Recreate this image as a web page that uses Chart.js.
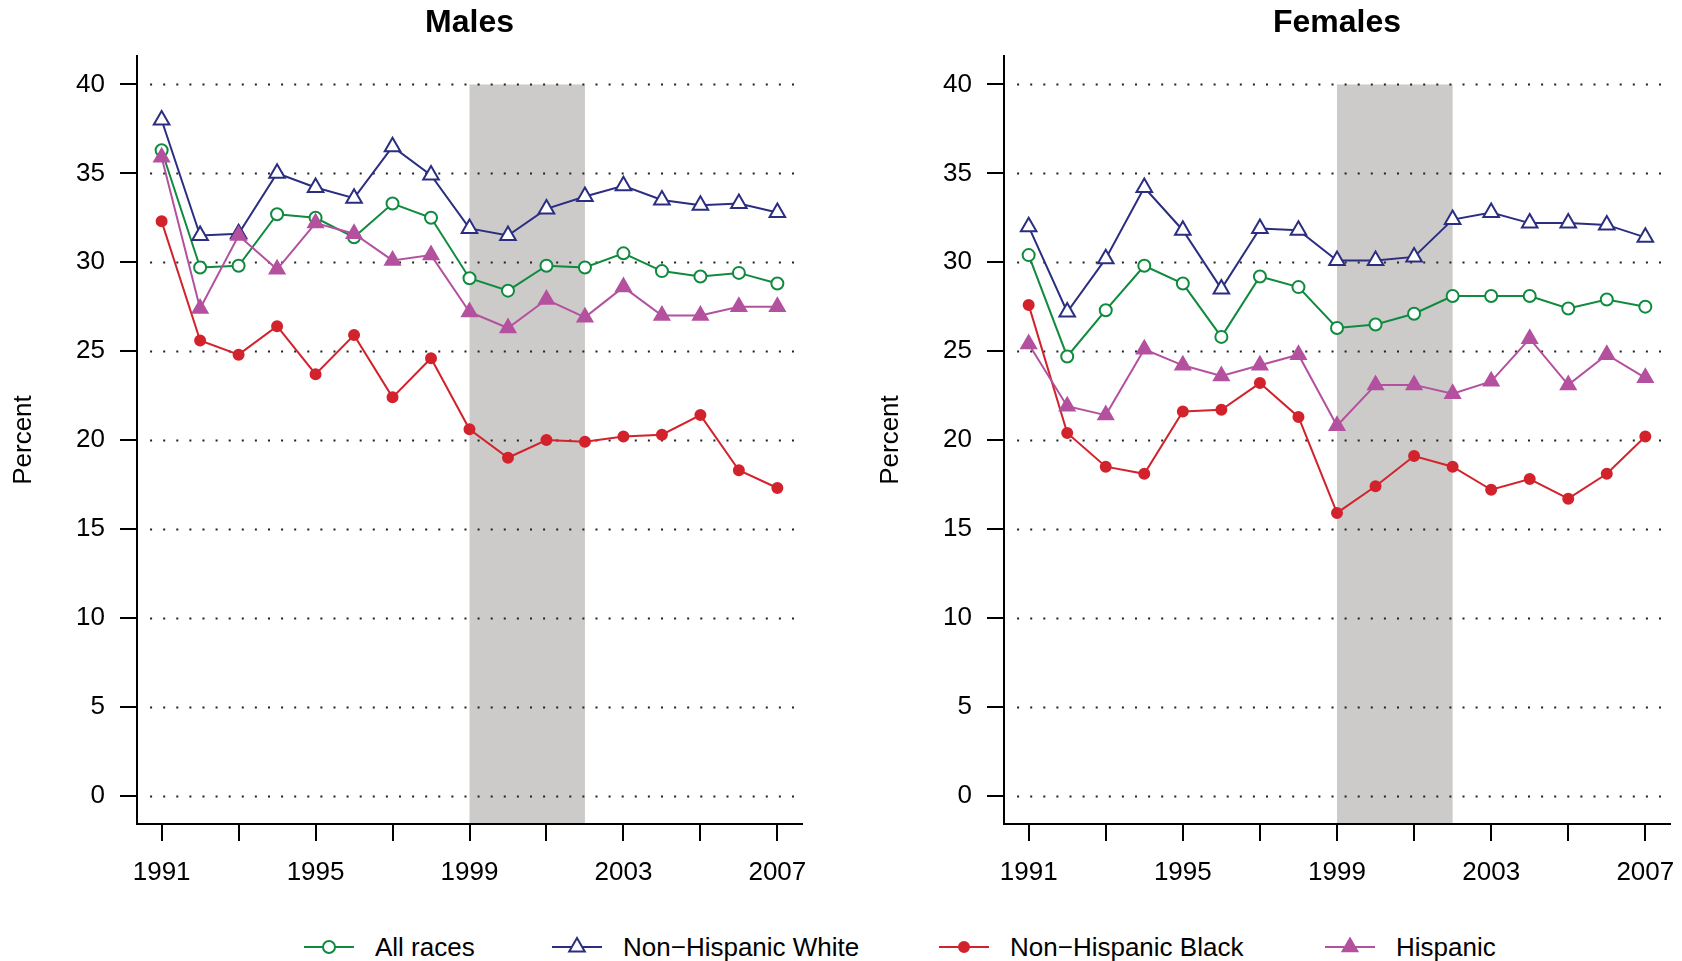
<!DOCTYPE html>
<html>
<head>
<meta charset="utf-8">
<script src="https://cdn.jsdelivr.net/npm/chart.js@4.4.1/dist/chart.umd.min.js"></script>
<style>
  html, body { margin: 0; padding: 0; background: #fff; }
  body { width: 1682px; height: 961px; position: relative; overflow: hidden; font-family: "Liberation Sans", Arial, sans-serif; }
  .panel { position: absolute; top: 0; height: 900px; }
  #malesWrap { left: 0; width: 841px; }
  #femalesWrap { left: 867px; width: 815px; }
  .legend-item { position: absolute; top: 931px; height: 32px; display: flex; align-items: center; font-size: 26px; color: #000; white-space: nowrap; }
  .legend-item svg { margin-right: 21px; }
</style>
</head>
<body>
<div id="malesWrap" class="panel"><canvas id="malesChart"></canvas></div>
<div id="femalesWrap" class="panel"><canvas id="femalesChart"></canvas></div>
<div id="legend"></div>

<script>
const years = [1991, 1992, 1993, 1994, 1995, 1996, 1997, 1998, 1999, 2000, 2001, 2002, 2003, 2004, 2005, 2006, 2007];

const maleAll      = [36.3, 29.7, 29.8, 32.7, 32.5, 31.4, 33.3, 32.5, 29.1, 28.4, 29.8, 29.7, 30.5, 29.5, 29.2, 29.4, 28.8];
const maleWhite    = [38.0, 31.5, 31.6, 35.0, 34.2, 33.6, 36.5, 34.9, 31.9, 31.5, 33.0, 33.7, 34.3, 33.5, 33.2, 33.3, 32.8];
const maleBlack    = [32.3, 25.6, 24.8, 26.4, 23.7, 25.9, 22.4, 24.6, 20.6, 19.0, 20.0, 19.9, 20.2, 20.3, 21.4, 18.3, 17.3];
const maleHispanic = [35.9, 27.4, 31.5, 29.6, 32.2, 31.6, 30.1, 30.4, 27.2, 26.3, 27.9, 26.9, 28.6, 27.0, 27.0, 27.5, 27.5];

const femaleAll      = [30.4, 24.7, 27.3, 29.8, 28.8, 25.8, 29.2, 28.6, 26.3, 26.5, 27.1, 28.1, 28.1, 28.1, 27.4, 27.9, 27.5];
const femaleWhite    = [32.0, 27.2, 30.2, 34.2, 31.8, 28.5, 31.9, 31.8, 30.1, 30.1, 30.3, 32.4, 32.8, 32.2, 32.2, 32.1, 31.4];
const femaleBlack    = [27.6, 20.4, 18.5, 18.1, 21.6, 21.7, 23.2, 21.3, 15.9, 17.4, 19.1, 18.5, 17.2, 17.8, 16.7, 18.1, 20.2];
const femaleHispanic = [25.4, 21.9, 21.4, 25.1, 24.2, 23.6, 24.2, 24.8, 20.8, 23.1, 23.1, 22.6, 23.3, 25.7, 23.1, 24.8, 23.5];

const seriesNames = ['All races', 'Non\u2212Hispanic White', 'Non\u2212Hispanic Black', 'Hispanic'];
const xTickYears = [1991, 1993, 1995, 1997, 1999, 2001, 2003, 2005, 2007];
const xLabelYears = [1991, 1995, 1999, 2003, 2007];
const yTickValues = [0, 5, 10, 15, 20, 25, 30, 35, 40];
const shadedYears = [1999, 2002];

const FONT = '"Liberation Sans", Arial, sans-serif';

const seriesStyle = [
    { color: '#0f8a3e', pointStyle: 'circle',   fill: '#ffffff', radius: 6,   order: 3 },
    { color: '#2b2e80', pointStyle: 'triangle', fill: '#ffffff', radius: 9,   order: 2 },
    { color: '#d2232c', pointStyle: 'circle',   fill: '#d2232c', radius: 5,   order: 1 },
    { color: '#b4519f', pointStyle: 'triangle', fill: '#b4519f', radius: 8.5, order: 0 }
];

// grey band + dotted horizontal reference lines, drawn under everything
const backdropPlugin = {
    id: 'backdrop',
    beforeDraw(chart) {
        const {ctx, chartArea, scales: {x, y}} = chart;
        ctx.save();
        ctx.fillStyle = '#cccbca';
        const x0 = x.getPixelForValue(shadedYears[0]);
        const x1 = x.getPixelForValue(shadedYears[1]);
        const yTop = y.getPixelForValue(40);
        ctx.fillRect(x0, yTop, x1 - x0, chartArea.bottom - yTop);

        ctx.strokeStyle = '#222';
        ctx.lineWidth = 2;
        ctx.setLineDash([2, 11.1]);
        const gx0 = x.getPixelForValue(1990.7);
        const gx1 = x.getPixelForValue(2007.45);
        yTickValues.forEach(v => {
            const py = Math.round(y.getPixelForValue(v)) + 0.5;
            ctx.beginPath();
            ctx.moveTo(gx0, py);
            ctx.lineTo(gx1, py);
            ctx.stroke();
        });
        ctx.restore();
    }
};

function makeDatasets(seriesList) {
    return seriesList.map((vals, i) => {
        const s = seriesStyle[i];
        return {
            label: seriesNames[i],
            data: years.map((yr, j) => ({x: yr, y: vals[j]})),
            borderColor: s.color,
            borderWidth: 2,
            pointStyle: s.pointStyle,
            pointRadius: s.radius,
            pointBackgroundColor: s.fill,
            pointBorderColor: s.color,
            pointBorderWidth: 2,
            tension: 0,
            fill: false,
            order: s.order
        };
    });
}

function createChart(canvasId, title, seriesList, rightPad) {
    const ctx = document.getElementById(canvasId).getContext('2d');
    return new Chart(ctx, {
        type: 'line',
        data: { datasets: makeDatasets(seriesList) },
        plugins: [backdropPlugin],
        options: {
            responsive: true,
            maintainAspectRatio: false,
            animation: false,
            layout: { padding: { left: 0, right: rightPad, top: 0, bottom: 0 } },
            plugins: {
                legend: { display: false },
                tooltip: { enabled: false },
                title: {
                    display: true,
                    text: title,
                    fullSize: false,
                    color: '#000',
                    font: { family: FONT, size: 32, weight: 'bold' },
                    padding: { top: 4, bottom: 13.6 }
                }
            },
            scales: {
                x: {
                    type: 'linear',
                    min: 1990.36,
                    max: 2007.64,
                    afterBuildTicks: scale => { scale.ticks = xTickYears.map(v => ({value: v})); },
                    afterFit: scale => { scale.height = 76; scale.paddingLeft = 0; scale.paddingRight = 0; },
                    ticks: {
                        color: '#000',
                        font: { family: FONT, size: 26 },
                        padding: 16,
                        maxRotation: 0,
                        autoSkip: false,
                        callback: v => xLabelYears.includes(v) ? String(v) : ''
                    },
                    grid: { drawOnChartArea: false, drawTicks: true, tickLength: 17, color: '#000', lineWidth: 2 },
                    border: { display: true, color: '#000', width: 2 }
                },
                y: {
                    type: 'linear',
                    min: -1.6,
                    max: 41.6,
                    afterBuildTicks: scale => { scale.ticks = yTickValues.map(v => ({value: v})); },
                    afterFit: scale => { scale.width = 137; scale.paddingTop = 0; scale.paddingBottom = 0; },
                    title: {
                        display: true,
                        text: 'Percent',
                        color: '#000',
                        font: { family: FONT, size: 26 },
                        padding: { top: 8, bottom: 0 }
                    },
                    ticks: {
                        color: '#000',
                        font: { family: FONT, size: 26 },
                        padding: 15,
                        autoSkip: false
                    },
                    grid: { drawOnChartArea: false, drawTicks: true, tickLength: 17, color: '#000', lineWidth: 2 },
                    border: { display: true, color: '#000', width: 2 }
                }
            }
        }
    });
}

function buildLegend() {
    const lefts = [304, 552, 939, 1325];
    const legend = document.getElementById('legend');
    seriesNames.forEach((name, i) => {
        const s = seriesStyle[i];
        let marker;
        if (s.pointStyle === 'circle') {
            const r = s.fill === '#ffffff' ? 6 : 5;
            marker = `<circle cx="25" cy="16" r="${r}" fill="${s.fill}" stroke="${s.color}" stroke-width="2"/>`;
        } else {
            const r = s.radius;
            const pts = [0, 1, 2].map(k => {
                const a = k * 2 * Math.PI / 3;
                return `${(25 + Math.sin(a) * r).toFixed(1)},${(16 - Math.cos(a) * r).toFixed(1)}`;
            }).join(' ');
            marker = `<polygon points="${pts}" fill="${s.fill}" stroke="${s.color}" stroke-width="2"/>`;
        }
        const item = document.createElement('div');
        item.className = 'legend-item';
        item.style.left = lefts[i] + 'px';
        item.innerHTML = `<svg width="50" height="32"><line x1="0" y1="16" x2="50" y2="16" stroke="${s.color}" stroke-width="2"/>${marker}</svg><span>${name}</span>`;
        legend.appendChild(item);
    });
}

document.addEventListener('DOMContentLoaded', () => {
    createChart('malesChart', 'Males', [maleAll, maleWhite, maleBlack, maleHispanic], 39);
    createChart('femalesChart', 'Females', [femaleAll, femaleWhite, femaleBlack, femaleHispanic], 12);
    buildLegend();
});
</script>
</body>
</html>
